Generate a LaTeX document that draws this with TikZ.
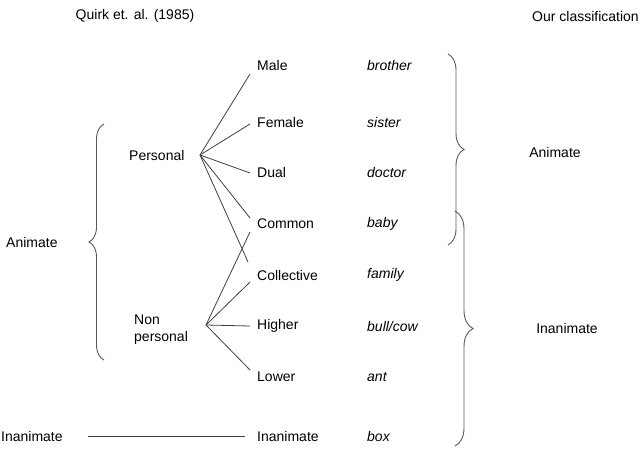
\documentclass[tikz,border=0pt]{standalone}
\usepackage{fontspec}
\setmainfont{Liberation Sans}
\usetikzlibrary{decorations.pathreplacing}
\begin{document}
\begin{tikzpicture}[x=1pt,y=-1pt,
  every node/.style={font=\fontsize{14}{17}\selectfont,inner sep=1pt},
  lab/.style={anchor=west},
  ex/.style={anchor=west,font=\fontsize{14}{17}\selectfont\itshape},
  ln/.style={draw=black!75,line width=0.8pt},
  br/.style={draw=black!65,line width=0.9pt,decorate,decoration={brace,amplitude=#1}}]
\useasboundingbox (0,0) rectangle (640,452);
\node (title) at (135,16) {Quirk et. al. (1985)};
\node[anchor=east] (our) at (640,16) {Our classification};
\node[anchor=west] (anL) at (5,242) {Animate};
\node[anchor=west] (inL) at (0,436) {Inanimate};
\node[anchor=west] (pers) at (128,155) {Personal};
\node[align=left,anchor=west] (np) at (133,330) {Non\\personal};
\node[lab] (male) at (256,65) {Male};
\node[lab] (fem) at (256,122) {Female};
\node[lab] (dual) at (256,172) {Dual};
\node[lab] (com) at (256,224) {Common};
\node[lab] (col) at (256,275) {Collective};
\node[lab] (hi) at (256,326) {Higher};
\node[lab] (lo) at (256,377) {Lower};
\node[lab] (inR) at (256,436) {Inanimate};
\node[ex] (b1) at (366,65) {brother};
\node[ex] (b2) at (366,122) {sister};
\node[ex] (b3) at (366,172) {doctor};
\node[ex] (b4) at (366,224) {baby};
\node[ex] (b5) at (366,275) {family};
\node[ex] (b6) at (366,326) {bull/cow};
\node[ex] (b7) at (366,377) {ant};
\node[ex] (b8) at (366,436) {box};
\node (anR) at (555,152) {Animate};
\node (inR2) at (567,328) {Inanimate};
\coordinate (p) at (200,155);
\coordinate (n) at (206,325);
\draw[ln] (p) -- (250,74);
\draw[ln] (p) -- (250,124);
\draw[ln] (p) -- (250,173);
\draw[ln] (p) -- (250,218);
\draw[ln] (p) -- (248,262);
\draw[ln] (n) -- (250,232);
\draw[ln] (n) -- (250,282);
\draw[ln] (n) -- (250,326);
\draw[ln] (n) -- (250,370);
\draw[ln] (88,436) -- (245,436);
\draw[br=15pt] (104,360) -- (104,124);
\draw[br=16pt] (448,54) -- (448,245);
\draw[br=18pt] (455,211) -- (455,446);
\end{tikzpicture}
\end{document}
